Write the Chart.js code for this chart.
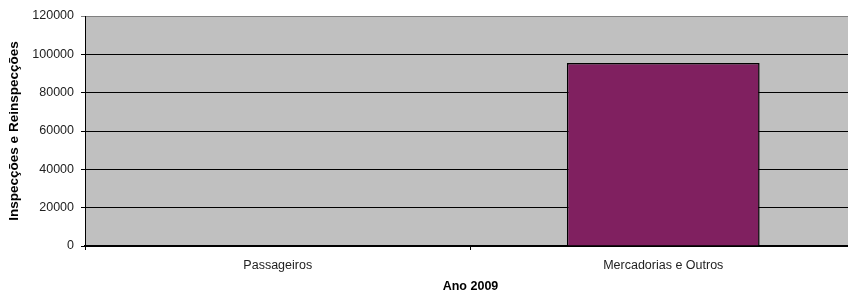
<!DOCTYPE html>
<html>
<head>
<meta charset="utf-8">
<script src="https://cdn.jsdelivr.net/npm/chart.js@4"></script>
<style>
  html, body { margin: 0; padding: 0; overflow: hidden; background: #fff; }
  #wrap { width: 860px; height: 295px; }
</style>
</head>
<body>
<div id="wrap"><canvas id="myChart"></canvas></div>
<script>
// dados do grafico
var categorias = ['Passageiros', 'Mercadorias e Outros'];
var inspeccoes = [0, 95500];
var yTicks = [0, 20000, 40000, 60000, 80000, 100000, 120000];

// fundo cinzento da area do grafico
var fundo = {
    id: 'fundo',
    beforeDraw: function (chart) {
        var a = chart.chartArea;
        var ctx = chart.ctx;
        ctx.save();
        ctx.fillStyle = '#c0c0c0';
        ctx.fillRect(a.left, a.top, a.right - a.left, a.bottom - a.top);
        ctx.restore();
    }
};

var fonte = 'Liberation Sans, Arial';

var ctx = document.getElementById('myChart').getContext('2d');
var myChart = new Chart(ctx, {
    type: 'bar',
    data: {
        labels: categorias,
        datasets: [{
            label: 'Ano 2009',
            data: inspeccoes,
            backgroundColor: '#802060',
            borderColor: '#000',
            borderWidth: 1.5,
            barPercentage: 0.5,
            categoryPercentage: 1
        }]
    },
    options: {
        responsive: true,
        maintainAspectRatio: false,
        animation: false,
        layout: { padding: { top: 16, right: 4, left: 0, bottom: 0 } },
        plugins: { legend: { display: false }, tooltip: { enabled: false } },
        scales: {
            x: {
                offset: true,
                grid: { offset: true, drawOnChartArea: false, color: '#000', tickLength: 4 },
                border: { color: '#000', width: 1.5 },
                ticks: { color: '#222', font: { family: fonte, size: 12.5 }, padding: 8 },
                title: { display: true, text: 'Ano 2009', color: '#000',
                    font: { family: fonte, size: 12.5, weight: 'bold' },
                    padding: { top: 0, bottom: 1 } },
                afterFit: function (s) { s.height = 49; }
            },
            y: {
                min: 0,
                max: 120000,
                afterBuildTicks: function (s) { s.ticks = yTicks.map(function (v) { return { value: v }; }); },
                grid: {
                    color: function (c) { return c.tick && c.tick.value === 120000 ? '#808080' : '#000'; },
                    lineWidth: 1,
                    tickLength: 4
                },
                border: { color: '#000', width: 1 },
                ticks: {
                    color: '#222',
                    font: { family: fonte, size: 12.5 },
                    padding: 7,
                    callback: function (v) { return String(v); }
                },
                title: { display: true, text: 'Inspecções e Reinspecções', color: '#000',
                    font: { family: fonte, size: 13.5, weight: 'bold' },
                    padding: { top: 6, bottom: 0 } },
                afterFit: function (s) { s.width = 85; }
            }
        }
    },
    plugins: [fundo]
});
</script>
</body>
</html>
